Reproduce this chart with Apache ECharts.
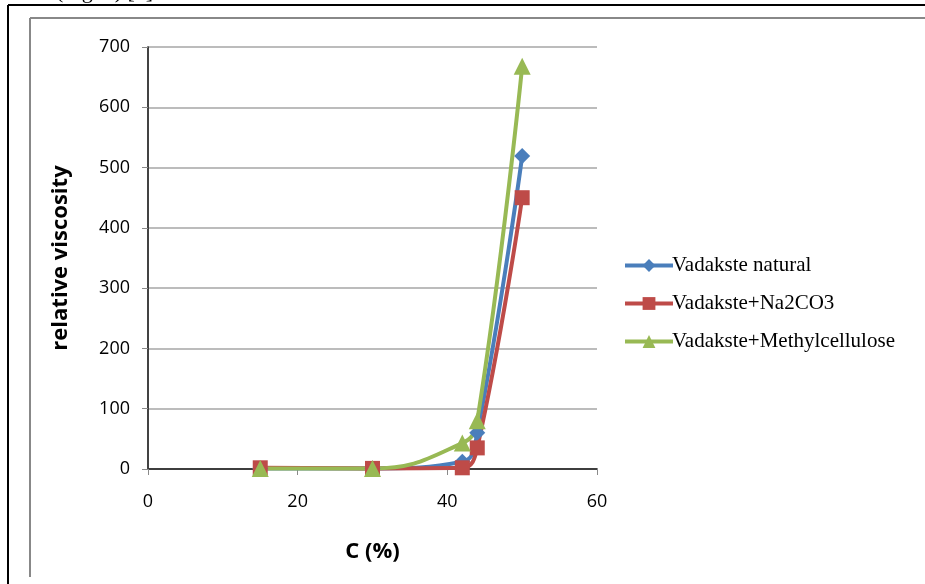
<!DOCTYPE html>
<html><head><meta charset="utf-8">
<script src="https://cdn.jsdelivr.net/npm/echarts@6/dist/echarts.min.js"></script>
<style>html,body{margin:0;padding:0;background:#fff}#c{width:925px;height:584px}</style>
</head><body><div id="c"></div>
<script>
const xTicks = [0, 20, 40, 60];
const yTicks = [0, 100, 200, 300, 400, 500, 600, 700];
const concentration = [15, 30, 42, 44, 50];
const natural = [1, 1, 12, 60, 519];
const na2co3 = [2, 1, 2, 35, 450];
const methyl = [1, 1, 43, 80, 668];
const seriesNames = ['Vadakste natural', 'Vadakste+Na2CO3', 'Vadakste+Methylcellulose'];

const chart = echarts.init(document.getElementById('c'), null, {renderer: 'canvas'});
const pair = arr => concentration.map((x, i) => [x, arr[i]]);
const tickFont = {fontFamily: '"Open Sans", "DejaVu Sans", sans-serif', fontSize: 18, color: '#000'};
const titleFont = {fontFamily: '"Open Sans", "DejaVu Sans", sans-serif', fontSize: 22, fontWeight: 'bold', color: '#000'};
const mk = (name, data, color, symbol, size) => ({
  name, type: 'line', data: pair(data), smooth: 0.45,
  symbol, symbolSize: size,
  lineStyle: {color, width: 4}, itemStyle: {color}
});
chart.setOption({
  animation: false,
  backgroundColor: '#fff',
  grid: {left: 148, top: 47, right: 328, bottom: 115},
  xAxis: [{
    type: 'value', min: 0, max: 60, interval: 20,
    axisLine: {lineStyle: {color: '#8a8a8a', width: 1.5}},
    axisTick: {show: true, inside: false, length: 6, lineStyle: {color: '#8a8a8a'}},
    splitLine: {show: false},
    axisLabel: Object.assign({margin: 24, formatter: v => xTicks.includes(v) ? String(v) : ''}, tickFont),
    name: 'C (%)', nameLocation: 'middle', nameGap: 72,
    nameTextStyle: titleFont
  }, {
    type: 'value', min: 0, max: 60, position: 'top',
    axisLine: {show: true, lineStyle: {color: '#222', width: 1.5}},
    axisTick: {show: false}, axisLabel: {show: false}, splitLine: {show: false}
  }],
  yAxis: [{
    type: 'value', min: 0, max: 700, interval: 100,
    axisLine: {show: true, lineStyle: {color: '#8a8a8a', width: 1.5}},
    axisTick: {show: true, inside: false, length: 6, lineStyle: {color: '#8a8a8a'}},
    splitLine: {show: true, lineStyle: {color: '#a6a6a6', width: 1.5}},
    axisLabel: Object.assign({margin: 18, formatter: v => yTicks.includes(v) ? String(v) : ''}, tickFont),
    name: 'relative viscosity', nameLocation: 'middle', nameGap: 76, nameRotate: 90,
    nameTextStyle: titleFont
  }, {
    type: 'value', min: 0, max: 700, position: 'right',
    axisLine: {show: true, lineStyle: {color: '#222', width: 1.5}},
    axisTick: {show: false}, axisLabel: {show: false}, splitLine: {show: false}
  }],
  legend: {
    orient: 'vertical', left: 618, top: 250, itemWidth: 48, itemHeight: 16, itemGap: 17,
    data: seriesNames,
    lineStyle: {width: 4},
    textStyle: {fontFamily: '"Liberation Serif", "Times New Roman", serif', fontSize: 21, color: '#000', padding: [0,0,0,-6]}
  },
  series: [
    mk(seriesNames[0], natural, '#4A7EBB', 'diamond', 16),
    mk(seriesNames[1], na2co3, '#BE4B48', 'rect', 15),
    mk(seriesNames[2], methyl, '#98B954', 'triangle', 17)
  ],
  graphic: [
    {type: 'line', shape: {x1: 8, y1: 5, x2: 8, y2: 584}, style: {stroke: '#000', lineWidth: 2}},
    {type: 'line', shape: {x1: 8, y1: 5, x2: 925, y2: 5}, style: {stroke: '#000', lineWidth: 2}},
    {type: 'line', shape: {x1: 30, y1: 18, x2: 30, y2: 577}, style: {stroke: '#888', lineWidth: 2}},
    {type: 'line', shape: {x1: 30, y1: 18, x2: 925, y2: 18}, style: {stroke: '#888', lineWidth: 2}},
    {type: 'text', left: 56, top: -19, style: {text: '(Fig. 4) [5]', font: '22px "Liberation Serif", serif', fill: '#000'}}
  ]
});
</script></body></html>
